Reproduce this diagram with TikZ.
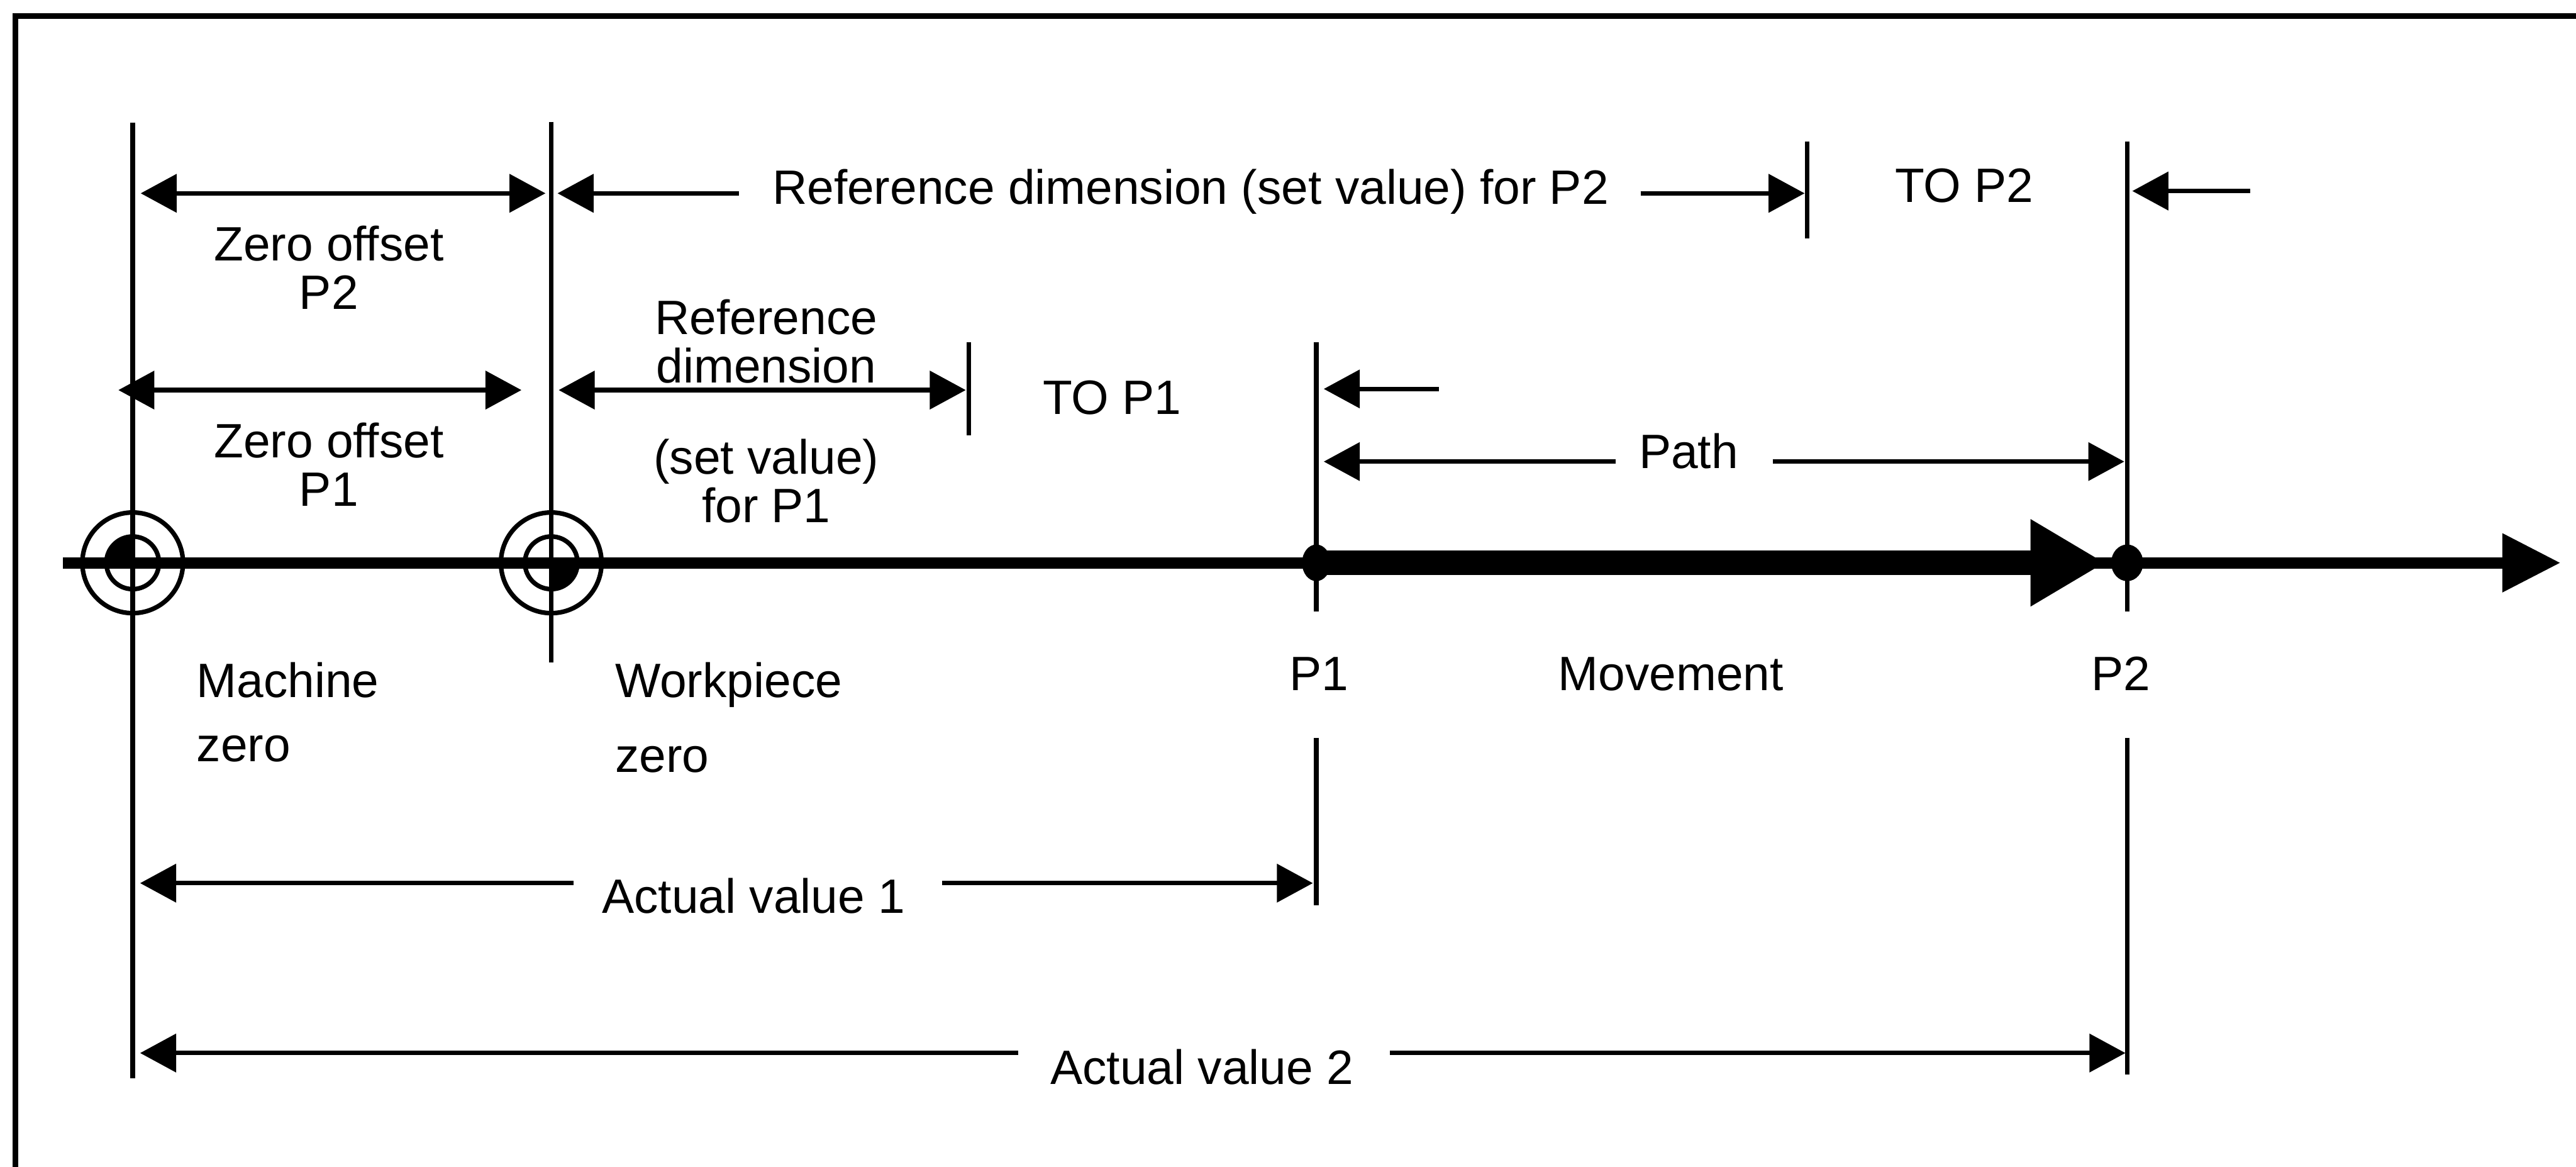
\documentclass[tikz,border=0pt]{standalone}
\usepackage{fontspec}
\setmainfont{Liberation Sans}
\usetikzlibrary{arrows.meta}
\usetikzlibrary{positioning}

\begin{document}
\begin{tikzpicture}[line width = 0.04cm,
  lab/.style  = {inner sep = 0pt, font = \fontsize{12}{12}\selectfont},
  dim/.style  = {-{Triangle[length=0.315cm, width=0.33cm]}},
  ddim/.style = {{Triangle[length=0.315cm, width=0.33cm]}-{Triangle[length=0.315cm, width=0.33cm]}}]
\useasboundingbox (0,0) rectangle (22.525,10.2);
\draw[line width = 0.05cm] (0.135,0) -- (0.135,10.06) -- (22.525,10.06);

\coordinate (s)   at (0.55,5.28);
\coordinate (mz)  at (1.16,5.28);
\coordinate (wz)  at (4.82,5.28);
\coordinate (p1)  at (11.51,5.28);
\coordinate (p2)  at (18.60,5.28);
\coordinate (mv)  at (18.41,5.28);
\coordinate (e)   at (22.39,5.28);

\coordinate (mzt) at (1.16,9.125);
\coordinate (mzb) at (1.16,0.775);
\coordinate (wzt) at (4.82,9.135);
\coordinate (wzb) at (4.82,4.41);
\coordinate (t2t) at (15.80,8.96);
\coordinate (t2b) at (15.80,8.115);
\coordinate (t1t) at (8.47,7.21);
\coordinate (t1b) at (8.47,6.395);
\coordinate (p1t) at (11.51,7.21);
\coordinate (p1a) at (11.51,4.855);
\coordinate (p1c) at (11.51,3.75);
\coordinate (p1b) at (11.51,2.285);
\coordinate (p2t) at (18.60,8.96);
\coordinate (p2a) at (18.60,4.855);
\coordinate (p2c) at (18.60,3.75);
\coordinate (p2b) at (18.60,0.805);

\path (mzt) edge (mzb)
      (wzt) edge (wzb)
      (t2t) edge (t2b)
      (t1t) edge (t1b)
      (p1t) edge (p1a)
      (p1c) edge (p1b)
      (p2t) edge (p2a)
      (p2c) edge (p2b);

\draw (mz) circle[radius=0.44];
\draw (mz) circle[radius=0.23];
\fill (mz) -- ++(0,0.23) arc[start angle=90, end angle=180, radius=0.23] -- cycle;
\draw (wz) circle[radius=0.44];
\draw (wz) circle[radius=0.23];
\fill (wz) -- ++(0,-0.23) arc[start angle=270, end angle=360, radius=0.23] -- cycle;

\draw[line width = 0.1cm, -{Triangle[length=0.51cm, width=0.49cm]}] (s) -- (e);
\draw[line width = 0.215cm, -{Triangle[length=0.655cm, width=0.715cm]}] (p1) -- (mv);
\fill (p1) ellipse[x radius=0.125, y radius=0.16];
\fill (p2) ellipse[x radius=0.14, y radius=0.16];

\node[lab, anchor=base] (rp2) at (10.41,8.415) {Reference dimension (set value) for P2};
\node[lab, anchor=base] (to2) at (17.175,8.43) {TO P2};
\node[lab, align=center, anchor=north] (zo2) at (2.875,8.245) {Zero offset\\P2};
\node[lab, align=center, anchor=north] (zo1) at (2.875,6.525) {Zero offset\\P1};
\node[lab, align=center, anchor=north] (rd1) at (6.70,7.60) {Reference\\dimension};
\node[lab, align=center, anchor=north] (sv1) at (6.70,6.38) {(set value)\\for P1};
\node[lab, anchor=base] (to1) at (9.725,6.58) {TO P1};
\node[lab, anchor=base] (path) at (14.765,6.105) {Path};
\node[lab, align=left, anchor=north west] (mzl) at (1.70,4.43) {Machine\\[4pt]zero};
\node[lab, align=left, anchor=north west] (wzl) at (5.36,4.43) {Workpiece\\[6.7pt]zero};
\node[lab, anchor=base] (p1l) at (11.535,4.165) {P1};
\node[lab, anchor=base] (mvl) at (14.61,4.165) {Movement};
\node[lab, anchor=base] (p2l) at (18.545,4.165) {P2};
\node[lab, anchor=base] (av1) at (6.59,2.22) {Actual value 1};
\node[lab, anchor=base] (av2) at (10.51,0.72) {Actual value 2};

\coordinate (a1) at (1.23,8.51);
\coordinate (a2) at (4.77,8.51);
\coordinate (a3) at (6.46,8.51);
\coordinate (a4) at (4.875,8.51);
\coordinate (a5) at (14.345,8.51);
\coordinate (a6) at (15.78,8.51);
\coordinate (a7) at (19.675,8.53);
\coordinate (a8) at (18.645,8.53);
\coordinate (b1) at (1.035,6.79);
\coordinate (b2) at (4.56,6.79);
\coordinate (b3) at (4.885,6.79);
\coordinate (b4) at (8.445,6.79);
\coordinate (b5) at (12.58,6.80);
\coordinate (b6) at (11.575,6.80);
\coordinate (c1) at (14.125,6.165);
\coordinate (c2) at (11.575,6.165);
\coordinate (c3) at (15.5,6.165);
\coordinate (c4) at (18.575,6.165);
\coordinate (d1) at (5.015,2.48);
\coordinate (d2) at (1.225,2.48);
\coordinate (d3) at (8.24,2.48);
\coordinate (d4) at (11.48,2.48);
\coordinate (e1) at (8.905,0.995);
\coordinate (e2) at (1.225,0.995);
\coordinate (e3) at (12.155,0.995);
\coordinate (e4) at (18.585,0.995);

\path[ddim] (a1) edge (a2)
            (b1) edge (b2)
            (b3) edge (b4);

\path[dim] (a3) edge (a4)
           (a5) edge (a6)
           (a7) edge (a8)
           (b5) edge (b6)
           (c1) edge (c2)
           (c3) edge (c4)
           (d1) edge (d2)
           (d3) edge (d4)
           (e1) edge (e2)
           (e3) edge (e4);
\end{tikzpicture}
\end{document}
